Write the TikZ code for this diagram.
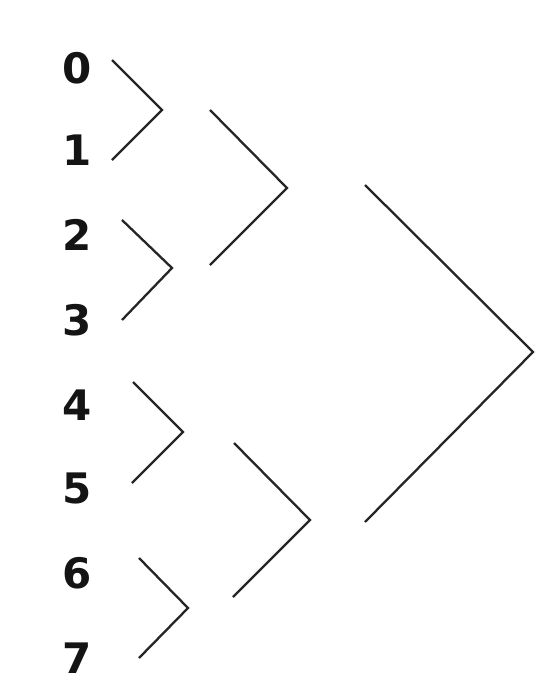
\documentclass[tikz,border=0pt]{standalone}
\usepackage{fontspec}
\setmainfont{DejaVu Sans}
\begin{document}
\begin{tikzpicture}[x=1pt,y=-1pt,
  digit/.style={font=\fontsize{42}{42}\selectfont\bfseries, text=black!92, inner sep=0pt, anchor=center},
  bracket/.style={line width=2.3pt, draw=black!85, line join=miter}]
\useasboundingbox (0,0) rectangle (550,696);
\node[digit] (n0) at (77,68) {0};
\node[digit] (n1) at (77,150) {1};
\node[digit] (n2) at (77,235) {2};
\node[digit] (n3) at (77,320) {3};
\node[digit] (n4) at (77,405) {4};
\node[digit] (n5) at (77,488) {5};
\node[digit] (n6) at (77,573) {6};
\node[digit] (n7) at (77,658) {7};
% level 1
\coordinate (a0) at (112,60); \coordinate (p01) at (162,110); \coordinate (a1) at (112,160);
\coordinate (a2) at (122,220); \coordinate (p23) at (172,268); \coordinate (a3) at (122,320);
\coordinate (a4) at (133,382); \coordinate (p45) at (183,432); \coordinate (a5) at (132,483);
\coordinate (a6) at (139,558); \coordinate (p67) at (188,608); \coordinate (a7) at (139,658);
% level 2
\coordinate (b0) at (210,110); \coordinate (p03) at (287,188); \coordinate (b1) at (210,265);
\coordinate (b2) at (234,443); \coordinate (p47) at (310,520); \coordinate (b3) at (233,597);
% level 3
\coordinate (c0) at (365,185); \coordinate (p07) at (533,352); \coordinate (c1) at (365,522);
\draw[bracket] (a0) -- (p01) -- (a1);
\draw[bracket] (a2) -- (p23) -- (a3);
\draw[bracket] (a4) -- (p45) -- (a5);
\draw[bracket] (a6) -- (p67) -- (a7);
\draw[bracket] (b0) -- (p03) -- (b1);
\draw[bracket] (b2) -- (p47) -- (b3);
\draw[bracket] (c0) -- (p07) -- (c1);
\end{tikzpicture}
\end{document}
